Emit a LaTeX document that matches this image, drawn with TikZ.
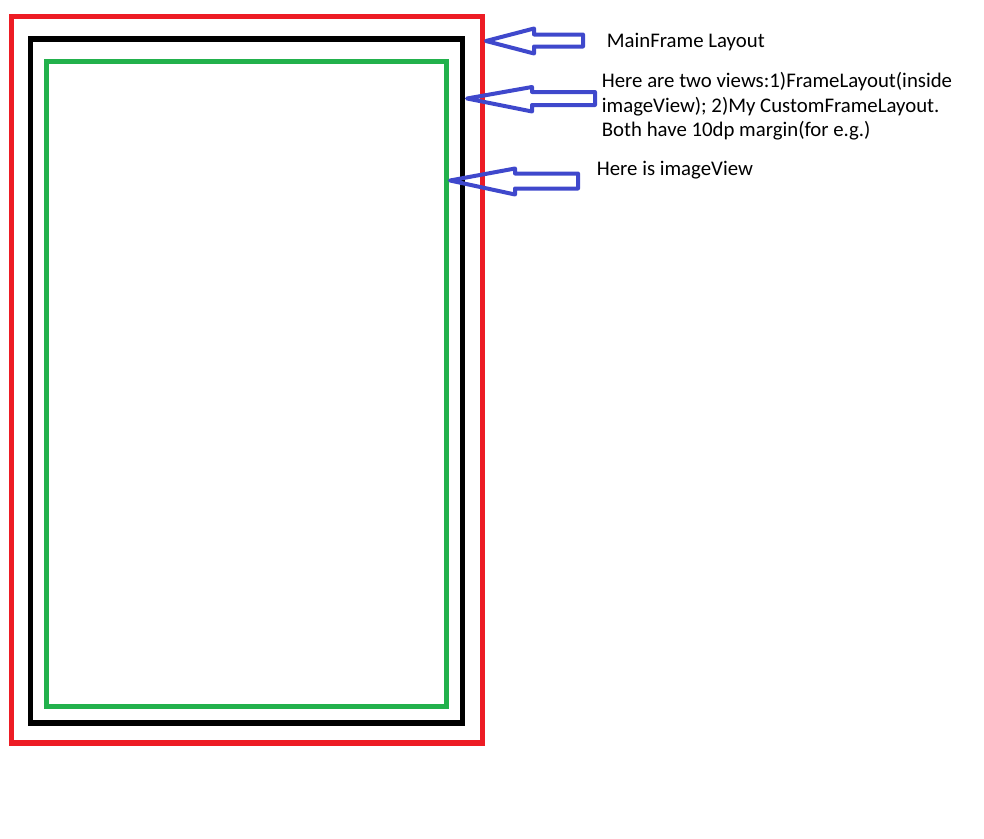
\documentclass[tikz,border=0pt]{standalone}
\usepackage{fontspec}
\setmainfont{Carlito}
\usepackage{xcolor}
\usepackage{tikz}
\usetikzlibrary{positioning}

\definecolor{paintred}{RGB}{237,28,36}
\definecolor{paintgreen}{RGB}{34,177,76}
\definecolor{paintblue}{RGB}{63,72,204}

\begin{document}
\begin{tikzpicture}[x=1pt, y=-1pt,
  frame/.style    = {line width=5.5pt},
  blockarr/.style = {draw=paintblue, line width=4pt, line join=round},
  lbl/.style      = {font=\fontsize{20.8}{24.5}\selectfont, inner sep=0pt,
                     anchor=base west, align=left}
]
\useasboundingbox (0,0) rectangle (984,838);

%% Nested frames
\draw[frame, paintred]   (11.5,16.5) rectangle (482.5,743);
\draw[frame, black]      (30.5,39)   rectangle (462.5,723);
\draw[frame, paintgreen] (46.5,61.5) rectangle (446.5,706.5);

%% --- Labels (base of the last line) ---
\node[lbl] (mainlabel)  at (606.7,47.7)  {MainFrame Layout};
\node[lbl] (viewslabel) at (601.7,136.5) {Here are two views:1)FrameLayout(inside\\
  imageView); 2)My CustomFrameLayout.\\Both have 10dp margin(for e.g.)};
\node[lbl] (imagelabel) at (596.7,175)   {Here is imageView};

%% --- Arrow tips on the frames ---
\coordinate (maintip)  at (486,41);
\coordinate (viewstip) at (467,98.5);
\coordinate (imagetip) at (450,180.5);

%% --- Block arrows ---
\draw[blockarr] (maintip)  -- ++(48,-12.5) -- ++(0,6) -- ++(49,0) -- ++(0,12)
  -- ++(-49,0) -- ++(0,7) -- cycle;
\draw[blockarr] (viewstip) -- ++(65,-11.5) -- ++(0,5) -- ++(63,0) -- ++(0,13)
  -- ++(-63,0) -- ++(0,6.5) -- cycle;
\draw[blockarr] (imagetip) -- ++(65,-12) -- ++(0,5) -- ++(63,0) -- ++(0,15)
  -- ++(-63,0) -- ++(0,6) -- cycle;
\end{tikzpicture}
\end{document}
